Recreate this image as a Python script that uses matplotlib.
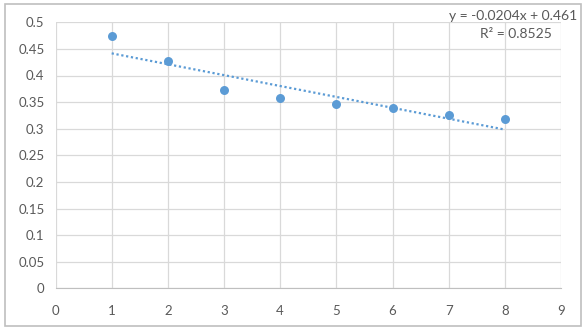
import numpy as np
import matplotlib
matplotlib.use('Agg')
import matplotlib.pyplot as plt
from matplotlib.patches import Rectangle

# data
x_vals = [1, 2, 3, 4, 5, 6, 7, 8]
y_vals = [0.474, 0.428, 0.373, 0.357, 0.346, 0.339, 0.325, 0.318]
eq_text = 'y = -0.0204x + 0.461'
r2_text = 'R² = 0.8525'

plt.rcParams['font.family'] = ['Lato', 'DejaVu Sans']

fig = plt.figure(figsize=(5.87, 3.30), dpi=100)
ax = fig.add_axes([55.5 / 587, 1 - 288.3 / 330, (561 - 55.5) / 587, (288.3 - 22.3) / 330])

# outer chart border
fig.patches.append(Rectangle((5 / 587, 4 / 330), 576 / 587, 322 / 330, transform=fig.transFigure,
                             fill=False, edgecolor='#bfbfbf', linewidth=1.2))

blue = '#5b9bd5'
ax.scatter(x_vals, y_vals, s=42, color=blue, zorder=3, linewidths=0)

# linear trendline
coef = np.polyfit(x_vals, y_vals, 1)
xs = np.array([x_vals[0], x_vals[-1]])
ax.plot(xs, np.polyval(coef, xs), linestyle=(0, (1, 1.2)), color=blue, linewidth=1.6, zorder=2)

ax.set_xlim(0, 9)
ax.set_ylim(0, 0.5)
ax.set_xticks(range(0, 10))
ax.set_yticks(np.arange(0, 0.501, 0.05))
ax.set_yticklabels(['0', '0.05', '0.1', '0.15', '0.2', '0.25', '0.3', '0.35', '0.4', '0.45', '0.5'])
ax.grid(True, color='#d9d9d9', linewidth=0.9)
ax.set_axisbelow(True)
for s in ['top', 'right', 'left']:
    ax.spines[s].set_visible(False)
ax.spines['bottom'].set_color('#bfbfbf')
ax.tick_params(length=0, labelsize=9.5, colors='#595959', pad=8)
ax.tick_params(axis='x', pad=12)

fig.text(577 / 587, 1 - 16 / 330, eq_text, ha='right', va='center', fontsize=10, color='#595959')
fig.text(552 / 587, 1 - 34 / 330, r2_text, ha='right', va='center', fontsize=10, color='#595959')

fig.savefig('out.png', dpi=100)
